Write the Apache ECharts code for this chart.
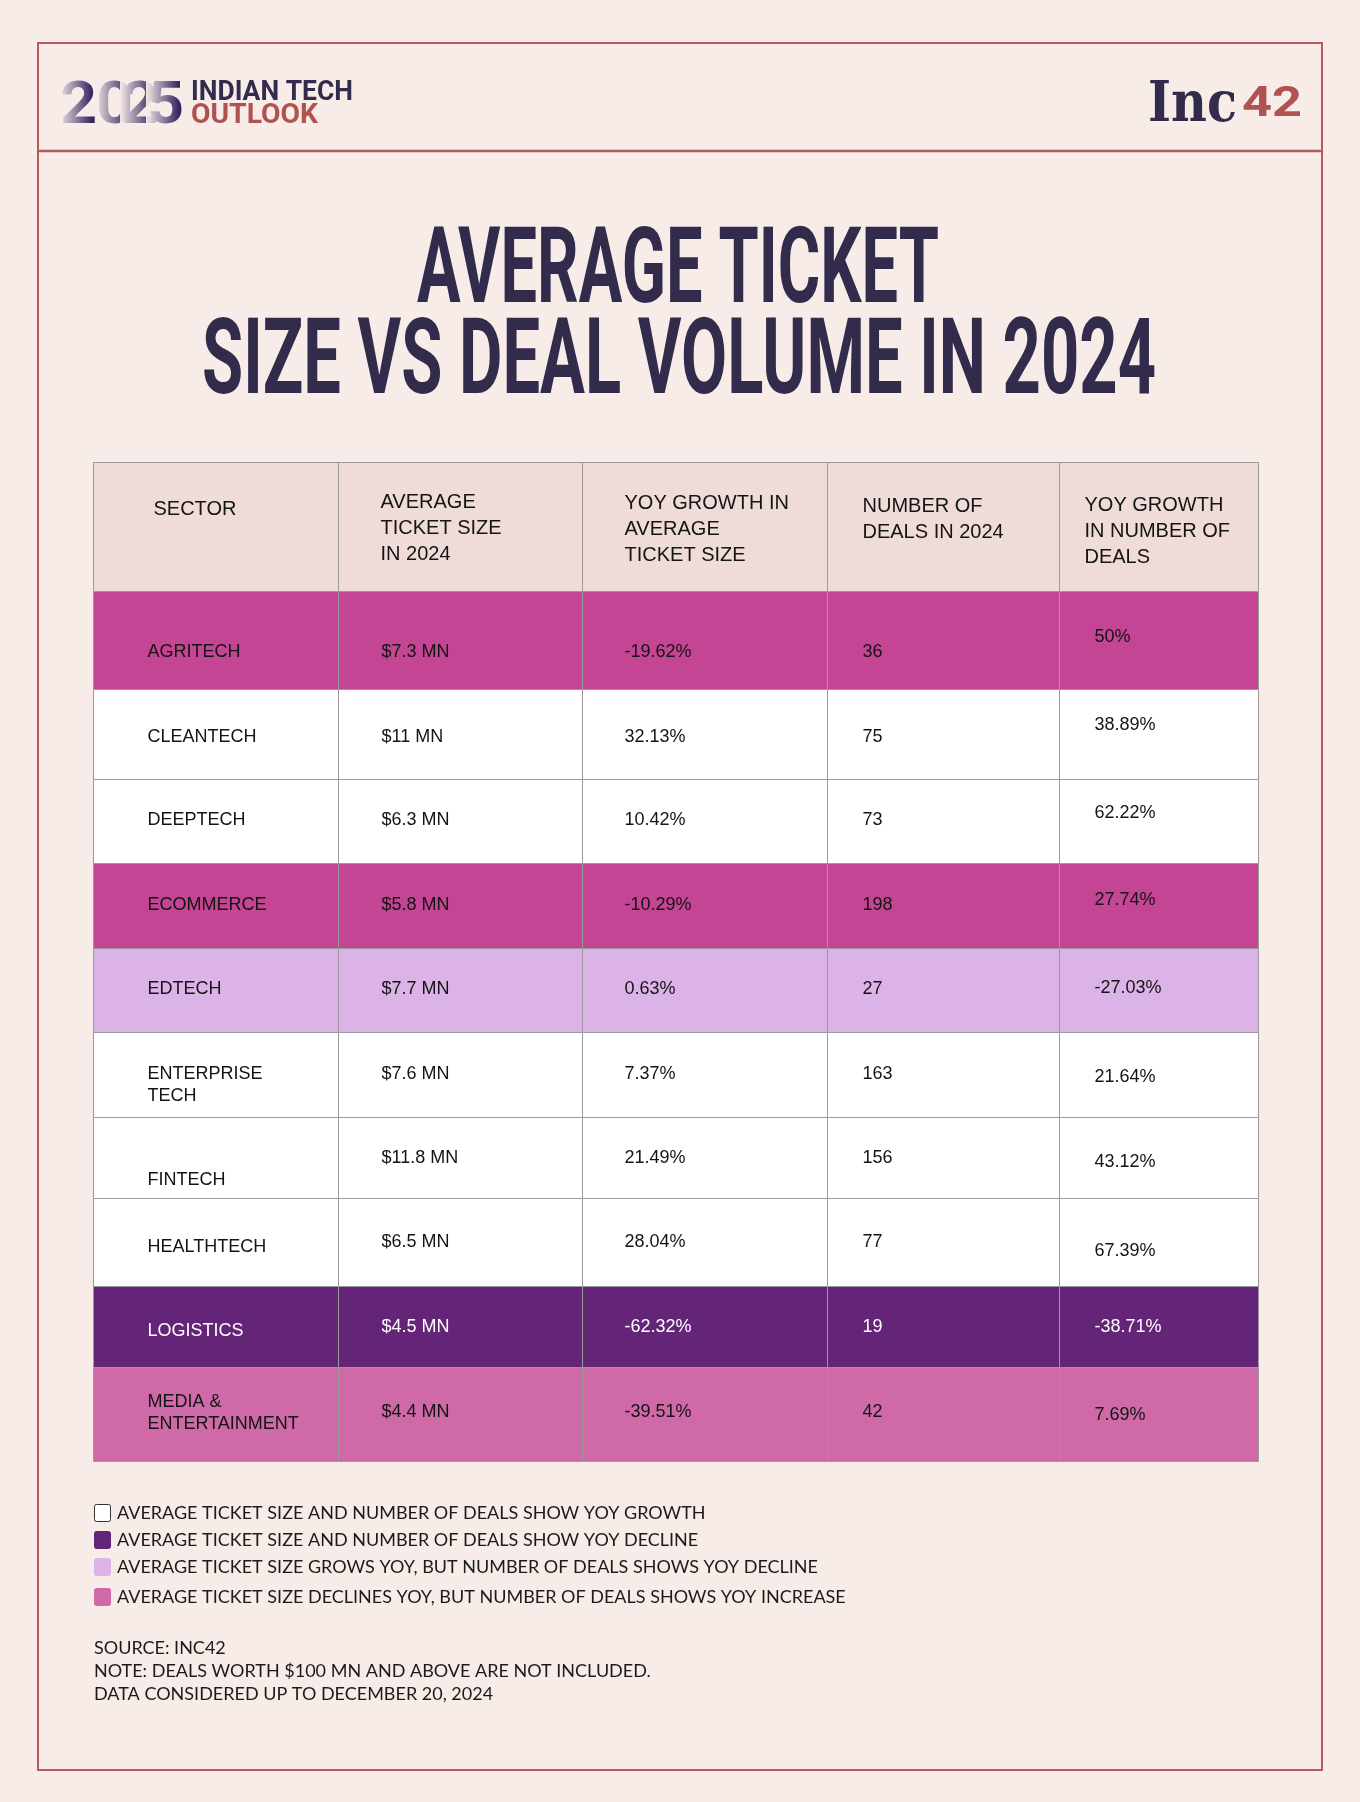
<!DOCTYPE html>
<html>
<head>
<meta charset="utf-8">
<script src="https://cdn.jsdelivr.net/npm/echarts/dist/echarts.min.js"></script>
<style>
  html, body { margin: 0; padding: 0; background: #f7ece8; }
  #chart { width: 1360px; height: 1802px; }
</style>
</head>
<body>
<div id="chart"></div>
<script>
// ---------------- DATA ----------------
const sectors = ['AGRITECH', 'CLEANTECH', 'DEEPTECH', 'ECOMMERCE', 'EDTECH',
  'ENTERPRISE\nTECH', 'FINTECH', 'HEALTHTECH', 'LOGISTICS', 'MEDIA &\nENTERTAINMENT'];
const avgTicketMn = [7.3, 11, 6.3, 5.8, 7.7, 7.6, 11.8, 6.5, 4.5, 4.4];
const ticketYoY = [-19.62, 32.13, 10.42, -10.29, 0.63, 7.37, 21.49, 28.04, -62.32, -39.51];
const dealCount = [36, 75, 73, 198, 27, 163, 156, 77, 19, 42];
const dealYoY = [50, 38.89, 62.22, 27.74, -27.03, 21.64, 43.12, 67.39, -38.71, 7.69];
const headers = ['SECTOR', 'AVERAGE\nTICKET SIZE\nIN 2024', 'YOY GROWTH IN\nAVERAGE\nTICKET SIZE',
  'NUMBER OF\nDEALS IN 2024', 'YOY GROWTH\nIN NUMBER OF\nDEALS'];
const legendLabels = [
  'AVERAGE TICKET SIZE AND NUMBER OF DEALS SHOW YOY GROWTH',
  'AVERAGE TICKET SIZE AND NUMBER OF DEALS SHOW YOY DECLINE',
  'AVERAGE TICKET SIZE GROWS YOY, BUT NUMBER OF DEALS SHOWS YOY DECLINE',
  'AVERAGE TICKET SIZE DECLINES YOY, BUT NUMBER OF DEALS SHOWS YOY INCREASE'];
const notes = ['SOURCE: INC42', 'NOTE: DEALS WORTH $100 MN AND ABOVE ARE NOT INCLUDED.',
  'DATA CONSIDERED UP TO DECEMBER 20, 2024'];
const titleLines = ['AVERAGE TICKET', 'SIZE VS DEAL VOLUME IN 2024'];

// ---------------- LAYOUT / STYLE ----------------
const COL_W = [245, 244, 245, 232, 199];
const ROW_H = [129, 98, 90, 84, 85, 84, 85, 81, 88, 81, 94];
const ROW_FILL = ['#efdcd9', '#c44594', '#ffffff', '#ffffff', '#c44594', '#dcb3e6',
  '#ffffff', '#ffffff', '#ffffff', '#642477', '#cf69a8'];
const LEGEND_FILL = ['#ffffff', '#642477', '#dcb3e6', '#cf69a8'];
const TX_HEAD = [60, 42, 42, 35, 25];
const TX_DATA = [54, 43, 42, 35, 35];
const DY = [
  [-17, 2, 3, -7, 5],
  [12, 12, 12, 12, -3],
  [3, 3, 3, 3, -9],
  [-1, -1, -1, -1, -8],
  [0, 0, 0, 0, -5],
  [-1, -1, -1, -1, -2],
  [11, 0, 0, 0, 3],
  [23, 1, 1, 1, 5],
  [5, 0, 0, 0, 9],
  [5, 1, 1, 1, 1],
  [-1, -2, -2, -2, 1]
];
const BG = '#f7ece8';
const NAVY = '#332b4c';
const RED = '#b0524f';
const BORDER = '#b65a5b';

const colEdges = [0];
COL_W.forEach(w => colEdges.push(colEdges[colEdges.length - 1] + w));
const rowEdges = [0];
ROW_H.forEach(h => rowEdges.push(rowEdges[rowEdges.length - 1] + h));

function fmtNum(v) { return String(v); }
function cellText(r, c) {
  if (r === 0) return headers[c];
  const i = r - 1;
  if (c === 0) return sectors[i];
  if (c === 1) return '$' + fmtNum(avgTicketMn[i]) + ' MN';
  if (c === 2) return fmtNum(ticketYoY[i]) + '%';
  if (c === 3) return fmtNum(dealCount[i]);
  return fmtNum(dealYoY[i]) + '%';
}

const cells = [];
for (let r = 0; r < ROW_H.length; r++) {
  for (let c = 0; c < COL_W.length; c++) cells.push([c, r]);
}

const measureCtx = document.createElement('canvas').getContext('2d');
function textW(txt, font) { measureCtx.font = font; return measureCtx.measureText(txt).width; }
function fitScale(txt, font, target) { return target / textW(txt, font); }

function txt(x, y, text, font, fill, align, extra) {
  return Object.assign({
    type: 'text', x: x, y: y, silent: true,
    style: { text: text, x: 0, y: 0, font: font, fill: fill,
      align: align || 'left', textAlign: align || 'left',
      verticalAlign: 'middle', textVerticalAlign: 'middle' }
  }, extra || {});
}

const graphics = [];
// frame
graphics.push({ type: 'rect', shape: { x: 38, y: 43, width: 1284, height: 1727 },
  style: { fill: 'transparent', stroke: BORDER, lineWidth: 2 }, silent: true });
graphics.push({ type: 'line', shape: { x1: 38, y1: 151, x2: 1322, y2: 151 },
  style: { stroke: BORDER, lineWidth: 2.5 }, silent: true });

// 2025 logo (each digit fades in from the left: dark digit + background-coloured fade overlay)
const digitFont = 'bold 60px Roboto';
const digits = ['2', '0', '2', '5'];
const digitLeft = [60, 96, 121, 147];
const digitScale = 1.08;
digits.forEach((d, i) => {
  const w = textW(d, digitFont) * digitScale;
  graphics.push(txt(digitLeft[i], 108, d, digitFont, '#34215f', 'left', { scaleX: digitScale }));
  graphics.push({ type: 'rect', silent: true,
    shape: { x: digitLeft[i] - 1, y: 76, width: w * 0.9, height: 52 },
    style: { fill: new echarts.graphic.LinearGradient(0, 0, 1, 0, [
      { offset: 0, color: 'rgba(247,236,232,0.97)' },
      { offset: 1, color: 'rgba(247,236,232,0)' }
    ]) } });
});
const logoFont = 'bold 28px Roboto';
graphics.push(txt(191, 92.5, 'INDIAN TECH', logoFont, NAVY, 'left',
  { scaleX: fitScale('INDIAN TECH', logoFont, 162) }));
graphics.push(txt(191, 115.5, 'OUTLOOK', logoFont, RED, 'left',
  { scaleX: fitScale('OUTLOOK', logoFont, 127) }));

// Inc42 logo
const incFont = 'bold 56px "DejaVu Serif"';
graphics.push(txt(1148, 106, 'Inc', incFont, NAVY, 'left',
  { scaleX: fitScale('Inc', incFont, 89) }));
const ftFont = 'bold 42px Roboto';
graphics.push(txt(1242, 105, '42', ftFont, RED, 'left',
  { scaleX: fitScale('42', ftFont, 60) }));

// title
const titleFont = 'bold 105px Roboto';
graphics.push(txt(678, 276, titleLines[0], titleFont, NAVY, 'center',
  { scaleX: fitScale(titleLines[0], titleFont, 522) }));
graphics.push(txt(679, 367, titleLines[1], titleFont, NAVY, 'center',
  { scaleX: fitScale(titleLines[1], titleFont, 954) }));

// legend
const legFont = '18px Lato';
const legY = [1513, 1540, 1567, 1597];
legendLabels.forEach((l, i) => {
  graphics.push({ type: 'rect', silent: true,
    shape: { x: 94.5, y: legY[i] - 8.5, width: 16, height: 17, r: 2 },
    style: { fill: LEGEND_FILL[i], stroke: i === 0 ? '#333' : LEGEND_FILL[i], lineWidth: 1 } });
  graphics.push(txt(117, legY[i], l, legFont, '#1b1b1b', 'left'));
});
const noteY = [1648, 1671, 1694];
notes.forEach((n, i) => graphics.push(txt(94, noteY[i], n, legFont, '#1b1b1b', 'left')));

const chart = echarts.init(document.getElementById('chart'), null, { renderer: 'canvas' });
chart.setOption({
  backgroundColor: BG,
  animation: false,
  grid: { left: 93, top: 462, width: colEdges[colEdges.length - 1], height: rowEdges[rowEdges.length - 1] },
  xAxis: { type: 'value', min: 0, max: colEdges[colEdges.length - 1], show: false },
  yAxis: { type: 'value', min: 0, max: rowEdges[rowEdges.length - 1], inverse: true, show: false },
  series: [{
    type: 'custom',
    coordinateSystem: 'cartesian2d',
    data: cells,
    silent: true,
    renderItem: function (params, api) {
      const c = api.value(0), r = api.value(1);
      const p0 = api.coord([colEdges[c], rowEdges[r]]);
      const p1 = api.coord([colEdges[c + 1], rowEdges[r + 1]]);
      const x0 = Math.round(p0[0]) + 0.5, y0 = Math.round(p0[1]) + 0.5;
      const w = Math.round(p1[0]) - Math.round(p0[0]);
      const h = Math.round(p1[1]) - Math.round(p0[1]);
      const isHead = r === 0;
      const tx = x0 + (isHead ? TX_HEAD[c] : TX_DATA[c]);
      const ty = (p0[1] + p1[1]) / 2 + DY[r][c];
      const fill = r === 9 ? '#ffffff' : '#141414';
      const font = isHead ? '20px "Liberation Sans"' : '18px "Liberation Sans"';
      return {
        type: 'group',
        children: [
          { type: 'rect', shape: { x: x0, y: y0, width: w, height: h },
            style: { fill: ROW_FILL[r], stroke: '#9a9a9a', lineWidth: 1 } },
          { type: 'text', x: tx, y: ty,
            style: { text: cellText(r, c), x: 0, y: 0, font: font, fill: fill,
              align: 'left', textAlign: 'left', verticalAlign: 'middle', textVerticalAlign: 'middle',
              lineHeight: isHead ? 26 : 22 } }
        ]
      };
    }
  }],
  graphic: { elements: graphics }
});
</script>
</body>
</html>
